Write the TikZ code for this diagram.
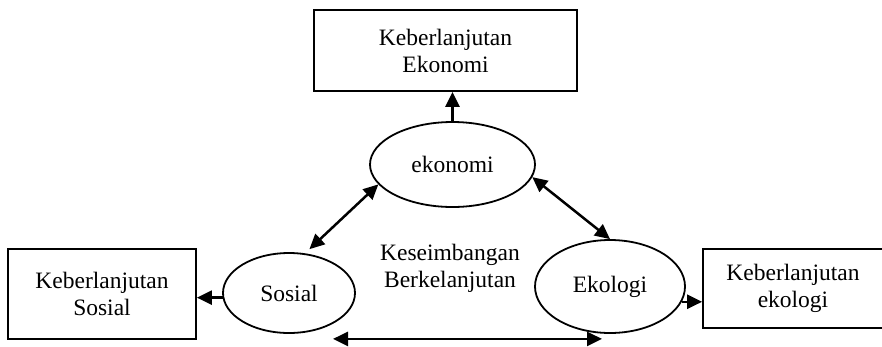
\documentclass[tikz,border=0pt]{standalone}
\usepackage{fontspec}
\setmainfont{Liberation Serif}
\usetikzlibrary{shapes.geometric,arrows.meta}

\begin{document}
\begin{tikzpicture}[x=1pt, y=-1pt,
    every node/.style={font=\fontsize{23.5}{27}\selectfont},
    box/.style={draw, line width=1.8pt, align=center, inner sep=0pt},
    circ/.style={draw, ellipse, line width=1.8pt, inner sep=0pt},
    arrow/.style={-{Triangle[length=15pt,width=14pt]}, line width=2.5pt},
    biarrow/.style={arrow, {Triangle[length=15pt,width=14pt]}-{Triangle[length=15pt,width=14pt]}}
]
\clip (0,0) rectangle (882,346);

\node[box, minimum width=263pt, minimum height=81pt] at (445.5,50.5) (ekobox) {Keberlanjutan\\Ekonomi};
\node[box, minimum width=188pt, minimum height=90pt] at (102,294) (sosbox) {Keberlanjutan\\Sosial};
\node[box, minimum width=180pt, minimum height=79pt] at (793,288.5) (ekolbox) {Keberlanjutan\\ekologi};

\node[circ, minimum width=165pt, minimum height=85pt] at (452.5,164.5) (ekonomi) {ekonomi};
\node[circ, minimum width=132pt, minimum height=80pt] at (289,293) (sosial) {Sosial};
\node[circ, minimum width=150pt, minimum height=93pt] at (610,286.5) (ekologi) {Ekologi};

\node[align=center] at (450,268) (balance) {Keseimbangan\\Berkelanjutan};

\draw[arrow] (ekonomi.north) -- (ekonomi.north |- ekobox.south);
\draw[arrow] (sosial.184) -- (sosial.184 -| sosbox.east);
\draw[arrow] (ekologi.-12) -- (ekologi.-12 -| ekolbox.west);
\draw[biarrow, shorten >=6pt] (ekonomi.195) -- (sosial.68);
\draw[biarrow] (ekonomi.-9) -- (ekologi.north);
\draw[biarrow] ([xshift=44pt,yshift=-5pt]sosial.south) -- ([xshift=-8pt,yshift=-5pt]ekologi.south);
\end{tikzpicture}
\end{document}
